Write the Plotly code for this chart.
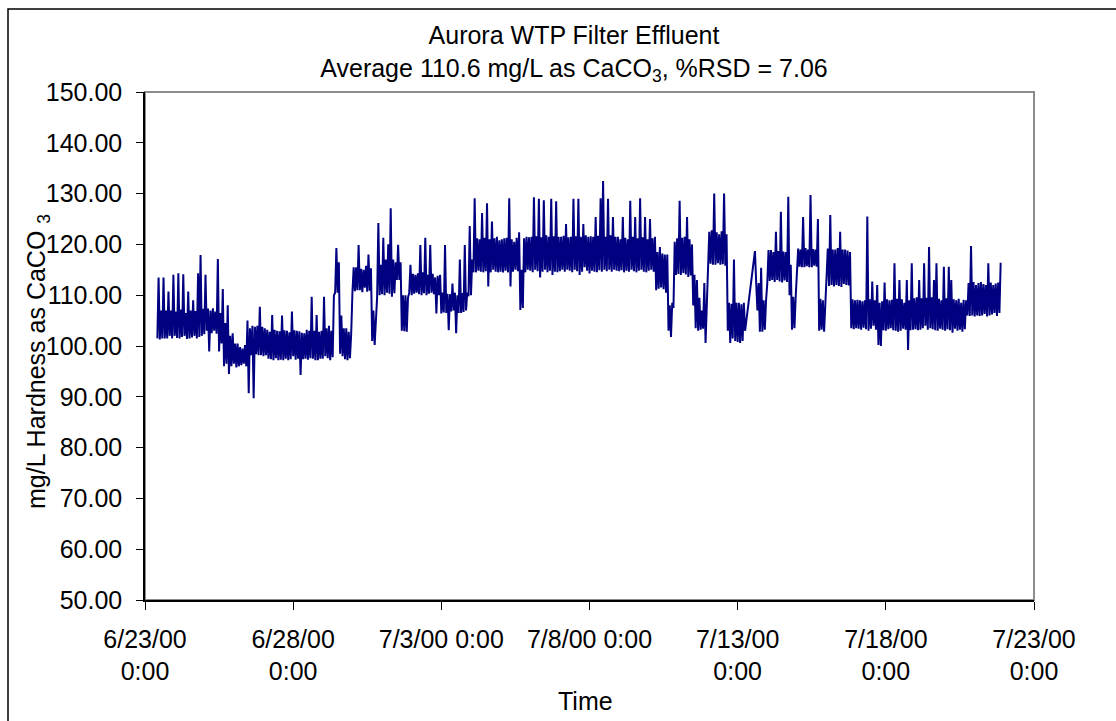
import pandas as pd
import plotly.graph_objects as go

# ---- data: hourly readings from 6/23/00 10:00 ----
start_time = "2000-06-23 10:00"
sample_step = "1h"

hardness = [
    # 6/23 (10:00 - 23:00)
    101.5, 113.5, 101.3, 107.0, 101.5, 113.5, 101.5, 107.0, 101.5, 110.7, 102.0, 107.0, 101.5, 114.0,
    # 6/24
    102.0, 106.8, 101.6, 114.3, 101.5, 107.2, 101.8, 114.1, 102.0, 106.5, 101.4, 110.7,
    101.5, 107.0, 101.7, 109.0, 102.0, 106.9, 101.5, 114.3, 101.8, 117.9, 102.0, 107.3,
    # 6/25
    102.3, 114.0, 103.0, 107.4, 98.9, 107.0, 102.5, 107.4, 103.0, 106.8, 102.4, 117.1,
    98.9, 106.5, 100.5, 111.2, 96.0, 104.5, 96.5, 108.0, 94.5, 102.0, 96.0, 102.5,
    # 6/26
    96.5, 100.5, 95.8, 100.5, 96.0, 99.8, 96.2, 99.5, 96.5, 100.2, 96.0, 105.0,
    90.7, 103.5, 98.2, 104.0, 89.7, 103.8, 98.4, 104.0, 98.2, 107.7, 98.2, 103.8,
    # 6/27
    98.0, 103.5, 98.2, 103.2, 97.5, 102.8, 97.4, 106.1, 97.2, 103.2, 97.6, 103.0,
    97.2, 102.9, 97.3, 106.0, 97.2, 103.1, 97.5, 103.0, 97.2, 102.7, 97.4, 106.8,
    # 6/28
    98.0, 103.1, 97.3, 103.0, 97.5, 102.9, 94.3, 102.6, 97.4, 102.5, 97.5, 103.2,
    97.3, 103.0, 97.6, 109.7, 97.5, 103.0, 97.2, 106.1, 97.2, 102.8, 97.5, 103.0,
    # 6/29
    97.5, 109.7, 98.0, 103.5, 97.6, 104.0, 97.2, 103.0, 97.8, 110.0, 110.5, 119.3,
    110.5, 116.5, 98.5, 106.0, 98.0, 103.5, 97.4, 103.5, 97.2, 102.8, 97.6, 102.5,
    # 6/30
    110.5, 115.5, 110.8, 115.5, 111.0, 119.9, 111.0, 115.2, 110.6, 115.0, 111.5, 115.8,
    110.7, 118.0, 110.9, 115.3, 101.0, 107.0, 100.2, 106.5, 109.7, 124.2, 110.0, 116.0,
    # 7/1
    110.2, 121.3, 110.0, 117.0, 110.5, 120.0, 110.3, 127.1, 109.7, 117.0, 110.4, 116.5,
    113.0, 119.9, 113.0, 116.5, 103.0, 110.0, 102.9, 110.0, 102.8, 109.5, 110.5, 116.0,
    # 7/2
    110.0, 114.2, 110.3, 114.0, 110.5, 114.3, 110.2, 119.9, 110.0, 114.5, 110.4, 121.3,
    110.0, 114.0, 110.3, 119.9, 110.5, 114.2, 110.2, 113.5, 106.4, 113.8, 110.0, 114.0,
    # 7/3
    106.4, 110.5, 106.6, 119.9, 106.5, 110.3, 103.1, 110.2, 106.8, 112.3, 107.0, 110.5,
    102.5, 110.0, 106.5, 117.0, 106.5, 110.4, 106.7, 119.9, 107.0, 110.5, 109.8, 123.6,
    # 7/4
    110.0, 117.0, 114.5, 129.1, 114.5, 121.2, 114.8, 121.0, 114.6, 126.2, 114.5, 121.3,
    114.7, 128.1, 111.7, 121.0, 114.5, 124.5, 115.0, 121.2, 114.6, 121.5, 114.5, 120.8,
    # 7/5
    114.6, 121.0, 114.5, 121.2, 114.8, 121.3, 114.5, 129.1, 111.7, 121.0, 114.6, 120.5,
    115.0, 121.3, 114.7, 122.4, 107.1, 115.0, 107.5, 121.2, 114.5, 121.5, 115.0, 121.4,
    # 7/6
    114.8, 121.5, 114.5, 129.3, 115.0, 121.6, 114.7, 129.0, 113.5, 121.4, 114.6, 128.7,
    115.0, 121.8, 114.5, 121.5, 114.8, 129.0, 114.0, 121.6, 114.6, 128.5, 114.5, 121.5,
    # 7/7
    114.7, 121.5, 115.0, 121.7, 114.6, 124.0, 115.0, 121.4, 114.8, 121.5, 114.5, 129.0,
    115.0, 121.6, 114.7, 129.0, 114.0, 121.5, 114.6, 124.0, 115.5, 121.8, 114.8, 121.5,
    # 7/8
    114.3, 121.6, 114.8, 121.5, 114.6, 125.4, 114.5, 121.7, 114.9, 129.1, 114.6, 132.5,
    115.0, 121.5, 114.7, 129.0, 115.0, 121.8, 114.6, 125.4, 115.0, 121.5, 114.8, 121.5,
    # 7/9
    114.7, 121.0, 114.9, 125.4, 114.5, 121.3, 114.8, 121.0, 114.6, 128.6, 115.0, 121.5,
    114.7, 125.4, 114.5, 121.2, 114.8, 129.1, 115.0, 121.4, 114.6, 125.4, 114.5, 121.0,
    # 7/10
    114.8, 125.0, 115.0, 121.2, 114.6, 121.5, 111.0, 118.5, 111.3, 119.5, 111.5, 118.2,
    111.2, 118.0, 110.5, 118.0, 103.0, 108.0, 101.8, 108.5, 107.5, 120.5, 114.0, 121.2,
    # 7/11
    114.2, 128.6, 114.0, 121.3, 114.4, 121.5, 114.1, 125.4, 113.6, 121.0, 113.9, 120.0,
    108.0, 114.0, 103.5, 113.0, 103.0, 109.5, 103.2, 107.0, 103.4, 112.4, 100.6, 108.0,
    # 7/12
    115.6, 122.5, 116.2, 122.8, 116.0, 130.0, 116.0, 122.4, 116.3, 122.0, 116.0, 122.6,
    116.1, 130.0, 115.8, 122.0, 103.0, 108.5, 100.6, 108.3, 101.5, 117.0, 101.0, 108.5,
    # 7/13 (no readings 07:00 - 13:00)
    100.8, 108.5, 100.6, 108.2, 101.0, 108.5, 103.0, None, None, None, None, None,
    None, None, 118.7, 112.4, 107.0, 112.4, 102.8, 115.4, 102.8, 109.0, 103.2, 109.0,
    # 7/14
    112.4, 118.9, 112.8, 118.9, 113.0, 118.5, 112.6, 122.5, 113.0, 118.7, 112.7, 126.4,
    112.5, 118.6, 112.9, 118.5, 112.6, 129.4, 110.0, 116.0, 103.2, 109.7, 103.5, 109.7,
    # 7/15
    115.8, 119.2, 115.6, 119.0, 115.5, 125.4, 115.5, 119.3, 115.7, 119.0, 115.5, 129.7,
    115.5, 119.1, 115.8, 119.0, 115.6, 125.0, 103.0, 109.3, 103.2, 109.0, 102.8, 109.2,
    # 7/16
    112.0, 119.2, 111.8, 125.8, 112.0, 119.0, 111.7, 119.0, 112.0, 119.3, 111.8, 122.5,
    111.6, 119.0, 112.2, 119.0, 112.0, 118.8, 111.9, 118.5, 103.5, 109.2, 103.3, 109.0,
    # 7/17
    103.5, 109.1, 103.4, 109.0, 103.2, 108.8, 103.6, 109.0, 103.3, 125.5, 103.0, 109.2,
    103.4, 112.7, 104.0, 109.0, 103.2, 112.0, 100.2, 108.5, 100.0, 108.8, 103.1, 112.5,
    # 7/18
    103.0, 109.2, 103.3, 109.0, 103.5, 109.1, 103.1, 116.3, 103.0, 109.3, 102.8, 113.0,
    103.0, 109.2, 103.4, 108.5, 103.2, 113.0, 99.2, 109.0, 103.1, 116.3, 103.2, 109.4,
    # 7/19
    103.3, 109.6, 103.1, 113.0, 103.2, 109.4, 103.5, 116.3, 104.0, 109.5, 103.2, 119.5,
    103.5, 109.6, 103.3, 113.0, 103.1, 116.3, 103.0, 109.3, 103.4, 109.0, 103.2, 115.6,
    # 7/20
    103.0, 109.4, 103.3, 115.6, 103.1, 113.0, 102.6, 109.2, 103.4, 109.0, 103.0, 109.3,
    103.2, 108.5, 102.8, 109.1, 103.3, 109.0, 106.0, 112.4, 105.9, 119.7, 106.0, 112.6,
    # 7/21 (00:00 - 21:00)
    105.8, 112.0, 106.0, 112.4, 105.9, 112.6, 106.0, 112.2, 106.3, 112.0, 105.8, 116.3,
    106.0, 112.5, 106.2, 112.0, 106.5, 112.3, 105.9, 112.5, 106.5, 116.4,
]

x_tick_dates = ["2000-06-23", "2000-06-28", "2000-07-03", "2000-07-08",
                "2000-07-13", "2000-07-18", "2000-07-23"]
x_tick_labels = ["6/23/00<br>0:00", "6/28/00<br>0:00", "7/3/00 0:00", "7/8/00 0:00",
                 "7/13/00<br>0:00", "7/18/00<br>0:00", "7/23/00<br>0:00"]
y_ticks = [50, 60, 70, 80, 90, 100, 110, 120, 130, 140, 150]

times = pd.date_range(start=start_time, periods=len(hardness), freq=sample_step)

FONT = "Liberation Sans, Arial, sans-serif"
FS = 25

fig = go.Figure()
fig.add_trace(go.Scatter(
    x=times, y=hardness, mode="lines", connectgaps=True,
    line=dict(color="#000080", width=2), showlegend=False,
))

fig.update_layout(
    width=1116, height=721,
    margin=dict(l=145, r=82, t=92, b=121),
    paper_bgcolor="white", plot_bgcolor="white",
    font=dict(family=FONT, size=FS, color="black"),
    title=dict(
        text="Aurora WTP Filter Effluent<br>Average 110.6 mg/L as CaCO<sub>3</sub>, %RSD = 7.06",
        x=574 / 1116, xanchor="center", xref="container",
        y=1 - 44 / 721, yanchor="top", yref="container",
        font=dict(family=FONT, size=FS, color="black"),
    ),
    xaxis=dict(
        type="date", range=["2000-06-23", "2000-07-23"],
        tickmode="array", tickvals=x_tick_dates, ticktext=x_tick_labels,
        ticks="outside", ticklen=8, tickcolor="black", tickwidth=1,
        showline=True, linecolor="black", linewidth=1.5,
        showgrid=False, zeroline=False, ticklabelstandoff=8,
        tickfont=dict(family=FONT, size=FS, color="black"),
    ),
    yaxis=dict(
        range=[50, 150], tickmode="array", tickvals=y_ticks,
        tickformat=".2f",
        ticks="outside", ticklen=7, tickcolor="black", tickwidth=1,
        showline=True, linecolor="black", linewidth=1.5,
        showgrid=False, zeroline=False, ticklabelstandoff=9,
        tickfont=dict(family=FONT, size=FS, color="black"),
    ),
    shapes=[
        # plot-area frame (gray)
        dict(type="rect", xref="paper", yref="paper", x0=0, x1=1, y0=0, y1=1,
             line=dict(color="#8c8c8c", width=2), layer="below"),
        # chart-area border (black), running off the right/bottom edges
        dict(type="rect", xref="paper", yref="paper",
             x0=(8 - 145) / 889, x1=1.2, y0=-0.6, y1=(600 - 9) / 508,
             line=dict(color="black", width=1.5), layer="below"),
    ],
    annotations=[
        dict(text="mg/L Hardness as CaCO <sub>3</sub>", textangle=-90,
             xref="paper", yref="paper", x=(38 - 145) / 889, y=(600 - 362) / 508,
             xanchor="center", yanchor="middle", showarrow=False,
             font=dict(family=FONT, size=FS, color="black")),
        dict(text="Time", xref="paper", yref="paper",
             x=(585 - 145) / 889, y=(600 - 701) / 508,
             xanchor="center", yanchor="middle", showarrow=False,
             font=dict(family=FONT, size=FS, color="black")),
    ],
)

fig.write_html("out.html",
               config={"displayModeBar": False},
               post_script="document.body.style.margin='0';document.body.style.overflow='hidden';")
